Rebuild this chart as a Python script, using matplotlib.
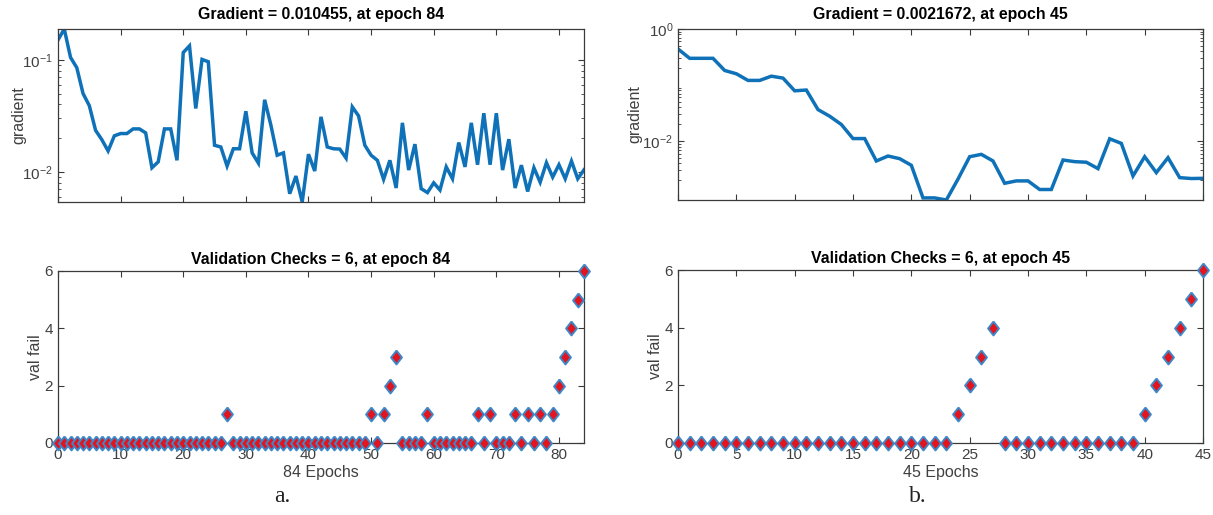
import numpy as np
import matplotlib
matplotlib.use('Agg')
import matplotlib.pyplot as plt
from matplotlib import rcParams
from matplotlib.ticker import FixedLocator, LogLocator, NullFormatter

# 字体设置（MATLAB 风格 -> Liberation Sans）
rcParams['font.family'] = ['Liberation Sans', 'DejaVu Sans']
rcParams['mathtext.fontset'] = 'custom'
rcParams['mathtext.rm'] = 'Liberation Sans'

# (a) 84 epochs 的梯度
grad_a = [0.150, 0.188, 0.105, 0.085, 0.050, 0.039, 0.0235, 0.0194, 0.0154, 0.021,
          0.022, 0.022, 0.0242, 0.0242, 0.0223, 0.0109, 0.0123, 0.0242, 0.0242, 0.0127,
          0.116, 0.133, 0.0368, 0.1007, 0.096, 0.0173, 0.0167, 0.0113, 0.0161, 0.0161,
          0.0348, 0.0148, 0.0120, 0.044, 0.0261, 0.0141, 0.0148, 0.0064, 0.0092, 0.0054,
          0.0144, 0.0102, 0.031, 0.0167, 0.0161, 0.016, 0.0133, 0.038, 0.0316, 0.0173,
          0.0141, 0.0127, 0.0086, 0.0127, 0.0072, 0.0274, 0.0104, 0.0177, 0.0071, 0.00655,
          0.0080, 0.0069, 0.0111, 0.0087, 0.0183, 0.0111, 0.0274, 0.0116, 0.0334, 0.0116,
          0.0334, 0.0104, 0.0196, 0.0072, 0.0115, 0.0067, 0.0109, 0.0081, 0.0121, 0.0090,
          0.0116, 0.0087, 0.0125, 0.0087, 0.010455]

# (a) 验证失败次数
val_a = [0, 0, 0, 0, 0, 0, 0, 0, 0, 0,
         0, 0, 0, 0, 0, 0, 0, 0, 0, 0,
         0, 0, 0, 0, 0, 0, 0, 1, 0, 0,
         0, 0, 0, 0, 0, 0, 0, 0, 0, 0,
         0, 0, 0, 0, 0, 0, 0, 0, 0, 0,
         1, 0, 1, 2, 3, 0, 0, 0, 0, 1,
         0, 0, 0, 0, 0, 0, 0, 1, 0, 1,
         0, 0, 0, 1, 0, 1, 0, 1, 0, 1,
         2, 3, 4, 5, 6]

# (b) 45 epochs 的梯度
grad_b = [0.44, 0.30, 0.30, 0.30, 0.182, 0.159, 0.121, 0.121, 0.144, 0.133,
          0.079, 0.0815, 0.0365, 0.0278, 0.0198, 0.0111, 0.0111, 0.00442, 0.00542, 0.00486,
          0.0037, 0.00097, 0.00097, 0.00089, 0.0021, 0.00527, 0.0058, 0.00442, 0.00177, 0.00195,
          0.00195, 0.00137, 0.00137, 0.0046, 0.0043, 0.0042, 0.00323, 0.011, 0.0091, 0.00239,
          0.00527, 0.00274, 0.00506, 0.00223, 0.00215, 0.0021672]

# (b) 验证失败次数
val_b = [0, 0, 0, 0, 0, 0, 0, 0, 0, 0,
         0, 0, 0, 0, 0, 0, 0, 0, 0, 0,
         0, 0, 0, 0, 1, 2, 3, 4, 0, 0,
         0, 0, 0, 0, 0, 0, 0, 0, 0, 0,
         1, 2, 3, 4, 5, 6]

grad_titles = ['Gradient = 0.010455, at epoch 84', 'Gradient = 0.0021672, at epoch 45']
val_titles = ['Validation Checks = 6, at epoch 84', 'Validation Checks = 6, at epoch 45']
xlabels = ['84 Epochs', '45 Epochs']
panel_tags = ['a.', 'b.']

W, H = 1213, 515
LINE = '#0f72b8'
AX = '#3a3a3a'

fig = plt.figure(figsize=(W / 100, H / 100), dpi=100)


def px_axes(l, t, r, b):
    return fig.add_axes([l / W, 1 - b / H, (r - l) / W, (b - t) / H])


def style(ax):
    for s in ax.spines.values():
        s.set_color(AX)
        s.set_linewidth(0.9)
    ax.tick_params(direction='in', top=True, right=True, length=4, width=0.8,
                   colors=AX, labelsize=11, labelcolor='#404040')
    ax.tick_params(which='minor', direction='in', top=True, right=True, length=2.5, width=0.6, colors=AX)


diamond = [(0, 1), (0.78, 0), (0, -1), (-0.78, 0), (0, 1)]

boxes = [((58, 29, 584, 202), (58, 271, 584, 443), 84, np.arange(0, 81, 10)),
         ((678, 29, 1203, 200), (678, 270, 1203, 443), 45, np.arange(0, 46, 5))]
grads = [grad_a, grad_b]
vals = [val_a, val_b]
ytop = [max(grad_a), 1.0]
ymajor = [[1e-2, 1e-1], [1e-2, 1.0]]
ylabs = [['$\\mathregular{10^{-2}}$', '$\\mathregular{10^{-1}}$'],
         ['$\\mathregular{10^{-2}}$', '$\\mathregular{10^{0}}$']]
tag_x = [282, 918]
gpad = [-3, 0]

for i in range(2):
    gbox, vbox, n, xt = boxes[i]

    # 梯度曲线
    ax = px_axes(*gbox)
    ep = np.arange(len(grads[i]))
    ax.plot(ep, grads[i], color=LINE, lw=2.5, solid_joinstyle='miter')
    ax.set_yscale('log')
    ax.set_xlim(0, n)
    ax.set_ylim(min(grads[i]), ytop[i])
    ax.set_xticks(xt)
    ax.set_xticklabels([])
    ax.yaxis.set_major_locator(FixedLocator(ymajor[i]))
    ax.set_yticklabels(ylabs[i])
    ax.yaxis.set_minor_locator(LogLocator(base=10, subs=np.arange(2, 10), numticks=20))
    ax.yaxis.set_minor_formatter(NullFormatter())
    ax.set_ylabel('gradient', fontsize=11.5, color='#404040', labelpad=gpad[i])
    ax.set_title(grad_titles[i], fontsize=11.4, fontweight='bold', pad=7)
    style(ax)

    # 验证检查
    ax2 = px_axes(*vbox)
    ep2 = np.arange(len(vals[i]))
    ax2.plot(ep2, vals[i], linestyle='none', marker=diamond, markersize=10,
             markerfacecolor='#e3141e', markeredgecolor='#3d88c8', markeredgewidth=1.4,
             clip_on=False, zorder=5)
    ax2.set_xlim(0, n)
    ax2.set_ylim(0, 6)
    ax2.set_xticks(xt)
    ax2.set_yticks([0, 2, 4, 6])
    ax2.set_ylabel('val fail', fontsize=11.5, color='#404040', labelpad=1)
    ax2.set_xlabel(xlabels[i], fontsize=11.5, color='#404040', labelpad=2)
    ax2.set_title(val_titles[i], fontsize=11.4, fontweight='bold', pad=5)
    style(ax2)

    # 面板标记
    fig.text(tag_x[i] / W, 1 - 497 / H, panel_tags[i], family='Liberation Serif',
             fontsize=17, ha='center', va='center', color='#222222')

fig.savefig('out.png', dpi=100)
